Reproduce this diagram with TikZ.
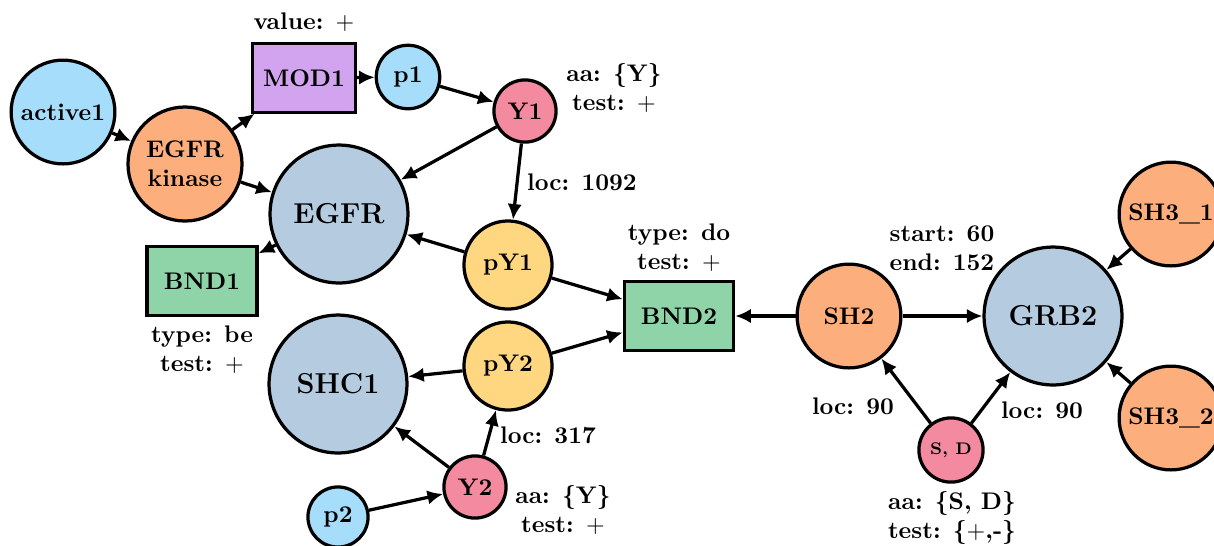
\documentclass[tikz,border=0pt]{standalone}
\usepackage{tikz}
\usetikzlibrary{arrows.meta,positioning}
\usepackage{xcolor}
\definecolor{SkyBlue}{HTML}{A6DDFB}
\definecolor{Apricot}{HTML}{FCAE7C}
\definecolor{Lilac}{HTML}{D2A4F0}
\definecolor{Rose}{HTML}{F48AA0}
\definecolor{Steel}{HTML}{B4CBE0}
\definecolor{Butter}{HTML}{FED780}
\definecolor{Mint}{HTML}{8ED4A8}

\tikzset{
  site/.style={draw,circle,line width=1.35pt,inner sep=0pt,align=center},
  protein/.style={site,fill=Steel,minimum size=2.02cm,font=\bfseries\large},
  domainnode/.style={site,fill=Apricot,minimum size=1.52cm},
  residue/.style={site,fill=Rose,minimum size=0.91cm},
  phospho/.style={site,fill=Butter,minimum size=1.29cm},
  statenode/.style={site,fill=SkyBlue,minimum size=0.93cm},
  rulebox/.style={draw,rectangle,line width=1.35pt,minimum width=1.6cm,minimum height=1.0cm},
  infotext/.style={align=center,inner sep=1pt},
  link/.style={-{Latex[length=6.5pt,width=6pt]},line width=1.35pt}
}

\begin{document}
\begin{tikzpicture}[x=0.01465cm,y=-0.01465cm,font=\bfseries]
  \useasboundingbox (0,0) rectangle (1214,545);

  % proteins
  \node[protein] (egfr) at (339,214) {EGFR};
  \node[protein] (shc1) at (338,384) {SHC1};
  \node[protein] (grb2) at (1053,316) {GRB2};

  % left part
  \node[statenode,minimum size=1.52cm] (active1) at (63,112) {active1};
  \node[domainnode,minimum size=1.67cm] (kin) at (185,164) {EGFR\\kinase};
  \node[rulebox,fill=Lilac,minimum width=1.51cm] (mod1) at (304,78) {MOD1};
  \node[statenode] (p1) at (408,77) {p1};
  \node[residue] (y1) at (525,111) {Y1};
  \node[phospho] (py1) at (508,265) {pY1};
  \node[rulebox,fill=Mint,minimum width=1.61cm] (bnd1) at (202,281) {BND1};
  \node[phospho] (py2) at (508,366) {pY2};
  \node[residue] (y2) at (475,487) {Y2};
  \node[statenode,minimum size=0.88cm] (p2) at (338,517) {p2};

  % right part
  \node[rulebox,fill=Mint] (bnd2) at (679,316) {BND2};
  \node[domainnode] (sh2) at (849,316) {SH2};
  \node[domainnode] (sh31) at (1171,214) {SH3\_1};
  \node[domainnode] (sh32) at (1171,418) {SH3\_2};
  \node[residue,minimum size=0.94cm,font=\bfseries\scriptsize] (sd) at (951,450) {S, D};

  % annotations
  \node[infotext] (modinfo) at (304,22) {value: $+$};
  \node[infotext] (y1info) at (614,88) {aa: \{Y\}\\test: $+$};
  \node[infotext] (y1loc) at (582,182) {loc: 1092};
  \node[infotext] (bnd2info) at (679,248) {type: do\\test: $+$};
  \node[infotext] (bnd1info) at (202,350) {type: be\\test: $+$};
  \node[infotext] (y2loc) at (548,435) {loc: 317};
  \node[infotext] (y2info) at (563,510) {aa: \{Y\}\\test: $+$};
  \node[infotext] (sh2info) at (942,248) {start: 60\\end: 152};
  \node[infotext] (sdloc1) at (853,406) {loc: 90};
  \node[infotext] (sdloc2) at (1042,410) {loc: 90};
  \node[infotext] (sdinfo) at (952,518) {aa: \{S, D\}\\test: \{$+$,-\}};

  % connectors
  \draw[link] (active1) -- (kin);
  \draw[link] (kin) -- (mod1);
  \draw[link] (kin) -- (egfr);
  \draw[link] (mod1) -- (p1);
  \draw[link] (p1) -- (y1);
  \draw[link] (y1) -- (egfr);
  \draw[link] (y1) -- (py1);
  \draw[link] (py1) -- (egfr);
  \draw[link] (egfr) -- (bnd1);
  \draw[link] (py1) -- (bnd2);
  \draw[link] (py2) -- (bnd2);
  \draw[link] (py2) -- (shc1);
  \draw[link] (y2) -- (shc1);
  \draw[link] (y2) -- (py2);
  \draw[link] (p2) -- (y2);
  \draw[link] (sh2) -- (bnd2);
  \draw[link] (sh2) -- (grb2);
  \draw[link] (sd) -- (sh2);
  \draw[link] (sd) -- (grb2);
  \draw[link] (sh31) -- (grb2);
  \draw[link] (sh32) -- (grb2);
\end{tikzpicture}
\end{document}
